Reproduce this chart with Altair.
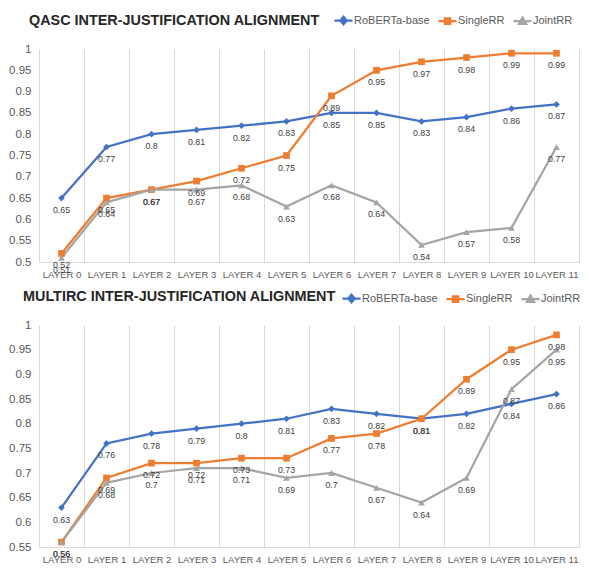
import altair as alt
import pandas as pd

layers = [f"LAYER {i}" for i in range(12)]
series = ["RoBERTa-base", "SingleRR", "JointRR"]
colors = ["#4472C4", "#ED7D31", "#A5A5A5"]
marker_shapes = ["diamond", "square", "triangle-up"]
legend_paths = [
    "M-1,0H1M0,-0.42L0.36,0L0,0.42L-0.36,0Z",
    "M-1,0H1M-0.3,-0.3H0.3V0.3H-0.3Z",
    "M-1,0H1M0,-0.4L0.4,0.32H-0.4Z",
]

qasc_roberta = [0.65, 0.77, 0.8, 0.81, 0.82, 0.83, 0.85, 0.85, 0.83, 0.84, 0.86, 0.87]
qasc_single = [0.52, 0.65, 0.67, 0.69, 0.72, 0.75, 0.89, 0.95, 0.97, 0.98, 0.99, 0.99]
qasc_joint = [0.51, 0.64, 0.67, 0.67, 0.68, 0.63, 0.68, 0.64, 0.54, 0.57, 0.58, 0.77]

multirc_roberta = [0.63, 0.76, 0.78, 0.79, 0.8, 0.81, 0.83, 0.82, 0.81, 0.82, 0.84, 0.86]
multirc_single = [0.56, 0.69, 0.72, 0.72, 0.73, 0.73, 0.77, 0.78, 0.81, 0.89, 0.95, 0.98]
multirc_joint = [0.56, 0.68, 0.7, 0.71, 0.71, 0.69, 0.7, 0.67, 0.64, 0.69, 0.87, 0.95]

qasc_ticks = [0.5, 0.55, 0.6, 0.65, 0.7, 0.75, 0.8, 0.85, 0.9, 0.95, 1.0]
multirc_ticks = [0.55, 0.6, 0.65, 0.7, 0.75, 0.8, 0.85, 0.9, 0.95, 1.0]

FONT = "Liberation Sans, sans-serif"


def make_df(vals_list):
    rows = []
    for s, vals in zip(series, vals_list):
        for i, (lay, v) in enumerate(zip(layers, vals)):
            rows.append({"layer": lay, "idx": i, "series": s, "value": v, "label": f"{v:g}"})
    return pd.DataFrame(rows)


def panel(df, title, ticks, title_dx, title_offset, lx, ly, height):
    color_scale = alt.Scale(domain=series, range=colors)
    x = alt.X(
        "layer:N",
        sort=layers,
        scale=alt.Scale(paddingInner=0, paddingOuter=0),
        axis=alt.Axis(
            title=None, labelAngle=0, grid=True, tickBand="extent",
            gridColor="#d9d9d9", domainColor="#d9d9d9", ticks=False,
            labelOverlap=False, labelPadding=7, labelFontSize=9.5,
            labelColor="#595959", labelFont=FONT,
        ),
    )
    y = alt.Y(
        "value:Q",
        scale=alt.Scale(domain=[ticks[0], 1.0], nice=False, zero=False),
        axis=alt.Axis(
            title=None, values=ticks, format=".2~f", grid=False, domain=False,
            ticks=False, labelPadding=8, labelFontSize=11.5, labelColor="#595959",
            labelFont=FONT,
        ),
    )
    base = alt.Chart(df)
    lines = base.mark_line(strokeWidth=2.25).encode(
        x=x, y=y,
        color=alt.Color("series:N", scale=color_scale, legend=None),
        order=alt.Order("idx:Q"),
    )
    pts = []
    for s, c, shp in zip(series, colors, marker_shapes):
        pts.append(
            base.transform_filter(alt.datum.series == s)
            .mark_point(shape=shp, filled=True, size=45, color=c, opacity=1)
            .encode(x=x, y=y)
        )
    labels = base.mark_text(baseline="top", dy=8, fontSize=8.8, font=FONT, color="#404040").encode(
        x=x, y=y, text="label:N"
    )
    leg = alt.Legend(
        title=None, orient="none", legendX=lx, legendY=ly, direction="horizontal",
        columns=3, symbolSize=324, symbolStrokeWidth=2.25, symbolOpacity=1,
        symbolOffset=7, labelFontSize=11, labelFont=FONT, labelColor="#595959",
        labelOffset=0, columnPadding=0,
    )
    legend_layer = base.mark_point(filled=True, opacity=0).encode(
        x=x, y=y,
        shape=alt.Shape("series:N", scale=alt.Scale(domain=series, range=legend_paths), legend=leg),
        fill=alt.Fill("series:N", scale=alt.Scale(domain=series, range=colors), legend=leg),
        stroke=alt.Stroke("series:N", scale=alt.Scale(domain=series, range=colors), legend=leg),
    )
    return alt.layer(lines, *pts, labels, legend_layer).properties(
        width=540, height=height,
        title=alt.TitleParams(
            title, anchor="start", frame="group", dx=title_dx, fontSize=14.4,
            font=FONT, fontWeight="bold", color="#262626", offset=title_offset,
        ),
    )


top = panel(make_df([qasc_roberta, qasc_single, qasc_joint]),
            "QASC INTER-JUSTIFICATION ALIGNMENT", qasc_ticks, -10, -18.5, 287, -39, 213)
bottom = panel(make_df([multirc_roberta, multirc_single, multirc_joint]),
               "MULTIRC INTER-JUSTIFICATION ALIGNMENT", multirc_ticks, -16, -16.5, 295, -37, 222)

chart = (
    alt.vconcat(top, bottom, spacing=9)
    .resolve_scale(shape="independent", fill="independent", stroke="independent")
    .resolve_legend(shape="independent", fill="independent", stroke="independent")
    .configure(padding={"left": 0, "top": 2, "right": 0, "bottom": 0})
    .configure_view(stroke=None)
)

chart.save("out.html", embed_options={"renderer": "svg", "actions": False})
